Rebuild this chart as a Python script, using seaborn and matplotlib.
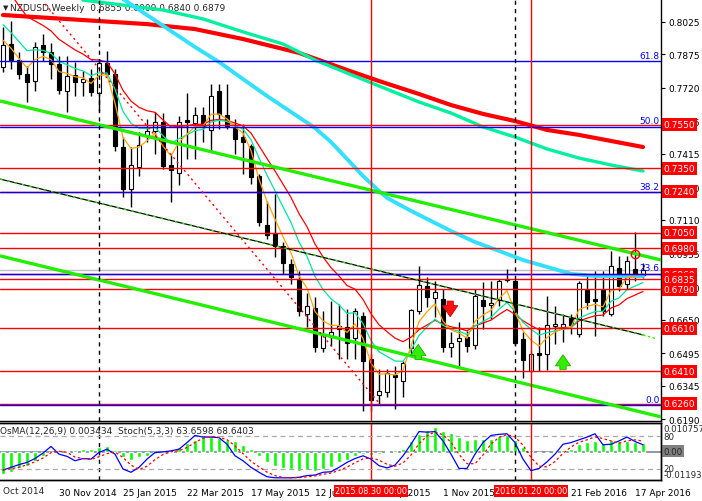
import numpy as np
import pandas as pd
import seaborn as sns
import matplotlib.pyplot as plt
import matplotlib.transforms as mtransforms

sns.set_style("white")
plt.rcParams['font.family'] = ['DejaVu Sans']

# ---------------------------
# NZDUSD weekly candles, 12 Oct 2014 .. 24 Apr 2016
# ---------------------------
opens = [0.7817, 0.7923, 0.7849, 0.7785, 0.7752, 0.7919, 0.7886, 0.7831, 0.7706, 0.7780,
         0.7748, 0.7766, 0.7697, 0.7835, 0.7785, 0.7447, 0.7253, 0.7355, 0.7498, 0.7521,
         0.7563, 0.7364, 0.7327, 0.7572, 0.7558, 0.7595, 0.7526, 0.7706, 0.7595, 0.7535,
         0.7493, 0.7452, 0.7313, 0.7087, 0.7050, 0.6990, 0.6907, 0.6833, 0.6676, 0.6703,
         0.6519, 0.6574, 0.6606, 0.6616, 0.6565, 0.6667, 0.6468, 0.6302, 0.6315, 0.6394,
         0.6366, 0.6519, 0.6690, 0.6805, 0.6750, 0.6745, 0.6523, 0.6551, 0.6569, 0.6533,
         0.6740, 0.6717, 0.6740, 0.6833, 0.6828, 0.6560, 0.6412, 0.6496, 0.6491, 0.6620,
         0.6616, 0.6657, 0.6583, 0.6787, 0.6745, 0.6787, 0.6676, 0.6888, 0.6814, 0.6884,
         0.6855]
highs = [0.8002, 0.8029, 0.7886, 0.7821, 0.7932, 0.7969, 0.7928, 0.7868, 0.7868, 0.7840,
         0.7798, 0.7808, 0.7854, 0.7891, 0.7808, 0.7493, 0.7447, 0.7517, 0.7577, 0.7609,
         0.7604, 0.7415, 0.7591, 0.7697, 0.7632, 0.7632, 0.7738, 0.7738, 0.7738, 0.7577,
         0.7554, 0.7461, 0.7323, 0.7198, 0.7230, 0.7008, 0.6930, 0.6874, 0.6773, 0.6754,
         0.6690, 0.6736, 0.6722, 0.6699, 0.6703, 0.6685, 0.6491, 0.6422, 0.6422, 0.6436,
         0.6459, 0.6699, 0.6897, 0.6847, 0.6828, 0.6791, 0.6593, 0.6639, 0.6597, 0.6791,
         0.6824, 0.6828, 0.6837, 0.6884, 0.6837, 0.6593, 0.6505, 0.6616, 0.6759, 0.6713,
         0.6676, 0.6676, 0.6828, 0.6851, 0.6874, 0.6874, 0.6967, 0.6944, 0.6944, 0.7055,
         0.6909]
lows = [0.7794, 0.7808, 0.7761, 0.7655, 0.7706, 0.7845, 0.7761, 0.7692, 0.7609, 0.7683,
        0.7683, 0.7683, 0.7614, 0.7775, 0.7429, 0.7216, 0.7170, 0.7313, 0.7470, 0.7415,
        0.7346, 0.7193, 0.7272, 0.7392, 0.7392, 0.7470, 0.7429, 0.7530, 0.7530, 0.7415,
        0.7323, 0.7276, 0.7082, 0.7022, 0.6939, 0.6861, 0.6814, 0.6667, 0.6616, 0.6500,
        0.6500, 0.6528, 0.6468, 0.6468, 0.6468, 0.6228, 0.6228, 0.6260, 0.6292, 0.6237,
        0.6292, 0.6491, 0.6676, 0.6708, 0.6662, 0.6500, 0.6477, 0.6436, 0.6500, 0.6514,
        0.6606, 0.6653, 0.6713, 0.6824, 0.6533, 0.6380, 0.6408, 0.6412, 0.6417, 0.6537,
        0.6546, 0.6583, 0.6569, 0.6699, 0.6574, 0.6667, 0.6667, 0.6782, 0.6791, 0.6828,
        0.6840]
closes = [0.7919, 0.7849, 0.7785, 0.7748, 0.7909, 0.7886, 0.7831, 0.7711, 0.7775, 0.7748,
          0.7761, 0.7701, 0.7835, 0.7785, 0.7452, 0.7253, 0.7364, 0.7457, 0.7521, 0.7563,
          0.7360, 0.7341, 0.7563, 0.7563, 0.7595, 0.7544, 0.7683, 0.7600, 0.7544, 0.7484,
          0.7470, 0.7309, 0.7101, 0.7041, 0.6990, 0.6911, 0.6847, 0.6690, 0.6713, 0.6523,
          0.6579, 0.6593, 0.6620, 0.6542, 0.6690, 0.6459, 0.6278, 0.6320, 0.6403, 0.6385,
          0.6449, 0.6694, 0.6810, 0.6754, 0.6777, 0.6523, 0.6542, 0.6565, 0.6528, 0.6759,
          0.6713, 0.6727, 0.6828, 0.6837, 0.6542, 0.6463, 0.6491, 0.6486, 0.6625, 0.6630,
          0.6630, 0.6625, 0.6819, 0.6731, 0.6736, 0.6690, 0.6897, 0.6805, 0.6921, 0.6861,
          0.6879]

# slow moving averages (bar index -> value)
red_ma_idx = [0, 6, 12, 18, 24, 30, 37, 43, 47, 52, 56, 60, 64, 68, 72, 76, 80]
red_ma = [0.8057, 0.8043, 0.8029, 0.8015, 0.7992, 0.7946, 0.7882, 0.7803, 0.7752,
          0.7692, 0.7641, 0.7600, 0.7567, 0.7526, 0.7503, 0.7475, 0.7447]
aqua_ma_idx = [10, 15, 20, 25, 30, 35, 39, 43, 47, 52, 56, 60, 64, 68, 72, 76, 80]
aqua_ma = [0.8126, 0.8103, 0.8080, 0.8039, 0.7979, 0.7923, 0.7849, 0.7789, 0.7729,
           0.7655, 0.7604, 0.7540, 0.7493, 0.7438, 0.7396, 0.7364, 0.7336]
cyan_ma_idx = [15, 18, 21, 24, 27, 30, 33, 36, 39, 41, 43, 45, 47, 48, 51, 54, 56,
               59, 62, 65, 68, 71, 74, 77, 80]
cyan_ma = [0.8131, 0.8057, 0.7983, 0.7909, 0.7840, 0.7761, 0.7683, 0.7609, 0.7535,
           0.7470, 0.7392, 0.7313, 0.7244, 0.7212, 0.7152, 0.7096, 0.7059, 0.7008,
           0.6967, 0.6925, 0.6893, 0.6861, 0.6851, 0.6851, 0.6851]

# fast EMAs: (period, level just before the first bar, colour)
fast_emas = [(13, 0.8250, "#ff0000"), (8, 0.8039, "#00e89a"), (4, 0.7955, "#ffa500")]

# horizontal support / resistance levels
levels = [0.7550, 0.7350, 0.7240, 0.7050, 0.6980, 0.6860, 0.6835, 0.6790, 0.6610, 0.6410, 0.6260]
fib_low, fib_high = 0.6255, 0.8828
fib_pcts = [0.0, 23.6, 38.2, 50.0, 61.8]
price_ticks = [0.8025, 0.7875, 0.7720, 0.7565, 0.7415, 0.7260, 0.7110, 0.6955,
               0.6800, 0.6650, 0.6495, 0.6345, 0.6190]

# trend lines: (bar, price) end points
upper_channel = [(-0.375, 0.7660), (82.25, 0.6925)]
lower_channel = [(-0.375, 0.6944), (82.25, 0.6200)]
mid_line = [(-0.375, 0.7299), (80, 0.6579)]
mid_ext = [(80, 0.6579), (81.75, 0.6560)]
red_dotted = [(5.25, 0.8108), (47.1, 0.6260)]

# OsMA(12,26,9) and Stoch(5,3,3) %K
osma = [-0.0087, -0.0078, -0.0065, -0.0057, -0.0035, -0.0018, -0.0007, -0.0002, 0.0002, 0.0008,
        0.0010, 0.0010, 0.0017, 0.0023, 0.0008, -0.0022, -0.0031, -0.0022, -0.0016, -0.0009,
        -0.0002, 0.0008, 0.0017, 0.0034, 0.0047, 0.0056, 0.0056, 0.0052, 0.0047, 0.0040,
        0.0026, 0.0010, -0.0016, -0.0039, -0.0055, -0.0065, -0.0068, -0.0074, -0.0072, -0.0074,
        -0.0068, -0.0061, -0.0042, -0.0031, -0.0015, -0.0010, -0.0013, -0.0008, 0.0003, 0.0005,
        0.0012, 0.0040, 0.0068, 0.0083, 0.0096, 0.0081, 0.0074, 0.0059, 0.0046, 0.0048,
        0.0048, 0.0048, 0.0061, 0.0064, 0.0046, 0.0020, 0.0007, -0.0007, -0.0003, 0.0002,
        0.0007, 0.0012, 0.0029, 0.0038, 0.0042, 0.0035, 0.0044, 0.0042, 0.0042, 0.0039,
        0.0035]
stoch_k = [18, 23, 28, 32, 39, 49, 61, 47, 43, 35,
           39, 38, 50, 56, 47, 20, 14, 23, 38, 50,
           51, 53, 56, 68, 81, 78, 78, 77, 65, 44,
           35, 23, 14, 6, 4, 4, 4, 5, 8, 9,
           14, 15, 23, 32, 39, 44, 38, 26, 22, 27,
           44, 65, 88, 87, 88, 71, 47, 21, 21, 47,
           68, 81, 83, 84, 68, 38, 17, 21, 33, 47,
           65, 68, 73, 78, 84, 64, 65, 71, 78, 70,
           64]

time_ticks = [7, 15, 23, 31, 39, 47, 55, 63, 71, 79]
time_labels = ["30 Nov 2014", "25 Jan 2015", "22 Mar 2015", "17 May 2015", "12 Jul 2015",
               "6 Sep 2015", "1 Nov 2015", "27 Dec 2015", "21 Feb 2016", "17 Apr 2016"]
red_vlines = [(46, "2015.08.30 00:00"), (66, "2016.01.20 00:00")]
dash_vlines = [12, 64]

bars = np.arange(len(closes))
df = pd.DataFrame({"open": opens, "high": highs, "low": lows, "close": closes}, index=bars)

# --------------------------
# figure layout
# --------------------------
fig = plt.figure(figsize=(7.02, 5.02), dpi=100)
ax = fig.add_axes([0, 80 / 502, 661 / 702, 422 / 502])
ax_sub = fig.add_axes([0, 21 / 502, 661 / 702, 57 / 502])
xlim = (-0.375, 82.25)

# --------------------------
# candles
# --------------------------
up = df["close"] >= df["open"]
ax.vlines(bars, df["low"], df["high"], color="black", lw=1, zorder=2)
body_low = np.minimum(df["open"], df["close"])
body_h = np.maximum((df["close"] - df["open"]).abs(), 0.00005)
ax.bar(bars, body_h, bottom=body_low, width=0.62,
       color=np.where(up, "white", "black"), edgecolor="black", linewidth=0.8, zorder=2.1)

# --------------------------
# moving averages
# --------------------------
sns.lineplot(x=red_ma_idx, y=red_ma, ax=ax, color="#ff0000", linewidth=3, zorder=3)
sns.lineplot(x=aqua_ma_idx, y=aqua_ma, ax=ax, color="#00f0a0", linewidth=2.4, zorder=3)
sns.lineplot(x=cyan_ma_idx, y=cyan_ma, ax=ax, color="#33e0ff", linewidth=2.8, zorder=3)
for period, seed, col in fast_emas:
    ema = pd.Series([seed] + closes).ewm(span=period, adjust=False).mean().iloc[1:]
    sns.lineplot(x=bars, y=ema.values, ax=ax, color=col, linewidth=0.9, zorder=3)

# --------------------------
# objects: levels, fibo, trend lines
# --------------------------
ax.axhline(closes[-1], color="#c0c0c0", lw=1, zorder=1.5)
for lv in levels:
    ax.axhline(lv, color="red", lw=1, zorder=4)
for p in fib_pcts:
    lv = fib_low + (fib_high - fib_low) * p / 100
    ax.axhline(lv, color="blue", lw=1, zorder=4)
    ax.text(82.05, lv + 0.0006, f"{p:.1f}", color="blue", fontsize=6.5,
            ha="right", va="bottom", zorder=4)

for line in (upper_channel, lower_channel):
    (x0, y0), (x1, y1) = line
    ax.plot([x0, x1], [y0, y1], color="#22ee00", lw=2.4, zorder=4, solid_capstyle="butt")
(x0, y0), (x1, y1) = mid_line
ax.plot([x0, x1], [y0, y1], color="black", lw=0.9, zorder=4)
ax.plot([x0, x1], [y0, y1], color="#22ee00", lw=0.9, ls=(0, (2, 4)), zorder=4.1)
(x0, y0), (x1, y1) = mid_ext
ax.plot([x0, x1], [y0, y1], color="#22ee00", lw=0.9, ls=(0, (2, 2)), zorder=4.1)
(x0, y0), (x1, y1) = red_dotted
ax.plot([x0, x1], [y0, y1], color="red", lw=1, ls=(0, (1.5, 2.5)), zorder=4)

for xv, _ in red_vlines:
    ax.axvline(xv, color="red", lw=1, zorder=4)
    ax_sub.axvline(xv, color="red", lw=1, zorder=4)
for xv in dash_vlines:
    ax.axvline(xv, color="black", lw=1, ls=(0, (3, 3)), zorder=4)
    ax_sub.axvline(xv, color="black", lw=1, ls=(0, (3, 3)), zorder=4)

# arrows and marker
arrow_up = dict(arrowstyle="simple,head_length=0.8,head_width=1.1,tail_width=0.45",
                fc="#33ee00", ec="#22aa00", lw=0.6, mutation_scale=10)
arrow_dn = dict(arrowstyle="simple,head_length=0.8,head_width=1.1,tail_width=0.45",
                fc="#ff1010", ec="#cc0000", lw=0.6, mutation_scale=10)
ax.annotate("", xy=(51.9, 0.6548), xytext=(51.9, 0.6452), arrowprops=arrow_up, zorder=5)
ax.annotate("", xy=(70, 0.6500), xytext=(70, 0.6405), arrowprops=arrow_up, zorder=5)
ax.annotate("", xy=(55.9, 0.6650), xytext=(55.9, 0.6748), arrowprops=arrow_dn, zorder=5)
ax.plot(79, 0.6953, marker="o", ms=6, mfc="none", mec="red", mew=1, zorder=5)

# --------------------------
# main axis styling
# --------------------------
ax.set_xlim(*xlim)
ax.set_ylim(0.6181, 0.8131)
ax.set_xticks([])
ax.yaxis.tick_right()
ax.set_yticks(price_ticks)
ax.set_yticklabels([f"{t:.4f}" for t in price_ticks])
ax.tick_params(axis="y", length=3, width=0.8, labelsize=6.5, pad=2, colors="black")
for side in ("left", "top"):
    ax.spines[side].set_visible(False)
for side in ("right", "bottom"):
    ax.spines[side].set_color("black")
    ax.spines[side].set_linewidth(1)

ax.text(0.004, 0.987, "\u25bc", transform=ax.transAxes, fontsize=5, va="top", ha="left", zorder=1)
ax.text(0.015, 0.99, f"NZDUSD,Weekly  {opens[-1]:.4f} {highs[-1]:.4f} {lows[-1]:.4f} {closes[-1]:.4f}",
        transform=ax.transAxes, fontsize=6.5, va="top", ha="left", zorder=1)

ytr = ax.get_yaxis_transform()
for lv in levels:
    ax.text(1.004, lv, f"{lv:.4f}", transform=ytr, ha="left", va="center", color="white",
            fontsize=6.5, clip_on=False, zorder=6,
            bbox=dict(boxstyle="square,pad=0.22", fc="red", ec="none"))

# --------------------------
# OsMA + Stochastic sub window
# --------------------------
ax_sub.bar(bars, osma, width=0.5, color="#00ff00", zorder=2)
ax_sub.axhline(0, color="#778899", lw=1.2, zorder=1.5)
ax_sub.set_ylim(-0.01107, 0.01122)
ax_sub.set_xlim(*xlim)

ax_st = ax_sub.twinx()
ax_st.set_ylim(0, 103.6)
ax_st.set_xlim(*xlim)
for lv in (80, 20):
    ax_st.axhline(lv, color="#a9a9a9", lw=0.9, ls=(0, (4, 3)), zorder=1)
signal = pd.Series(stoch_k).rolling(3, min_periods=1).mean()
sns.lineplot(x=bars, y=stoch_k, ax=ax_st, color="#0000ff", linewidth=0.9, zorder=3)
sns.lineplot(x=bars, y=signal.values, ax=ax_st, color="red", linewidth=0.9,
             linestyle=(0, (2, 2)), zorder=3)
ax_st.set_yticks([])
ax_st.set_ylabel("")
for a in (ax_sub, ax_st):
    a.spines["left"].set_visible(False)
    for side in ("right", "bottom", "top"):
        a.spines[side].set_color("black")
        a.spines[side].set_linewidth(1)

ax_sub.set_yticks([])
ax_sub.set_xticks(time_ticks)
ax_sub.set_xticklabels(time_labels)
ax_sub.tick_params(axis="x", length=4, width=0.8, labelsize=6.5, pad=1.5, colors="black")
for lbl in ax_sub.get_xticklabels():
    lbl.set_horizontalalignment("left")
xtr = mtransforms.blended_transform_factory(ax_sub.transData, ax_sub.transAxes)
ax_sub.text(0.0, -0.19, "Oct 2014", transform=xtr,
            fontsize=6.5, ha="left", va="center", clip_on=False)

ax_sub.text(0.0, 0.87, "OsMA(12,26,9) 0.003434  Stoch(5,3,3) 63.6598 68.6403",
            transform=ax_sub.transAxes, fontsize=6.5, ha="left", va="center", zorder=6)

sub_lbls = [(0.90, "0.010757", None), (0.77, "80", None), (0.505, "0.00", "#808080"),
            (0.20, "20", None), (0.09, "-0.01193", None)]
for yy, txt, box in sub_lbls:
    kw = dict(bbox=dict(boxstyle="square,pad=0.15", fc=box, ec="none")) if box else {}
    ax_sub.text(1.004, yy, txt, transform=ax_sub.transAxes, fontsize=6.2, ha="left",
                va="center", clip_on=False, zorder=6, **kw)

for xv, txt in red_vlines:
    ax_sub.text(xv, -0.19, txt, transform=xtr, ha="center", va="center", color="white",
                fontsize=5.9, clip_on=False, zorder=7,
                bbox=dict(boxstyle="square,pad=0.15", fc="red", ec="none"))

fig.savefig("out.png", dpi=100)
